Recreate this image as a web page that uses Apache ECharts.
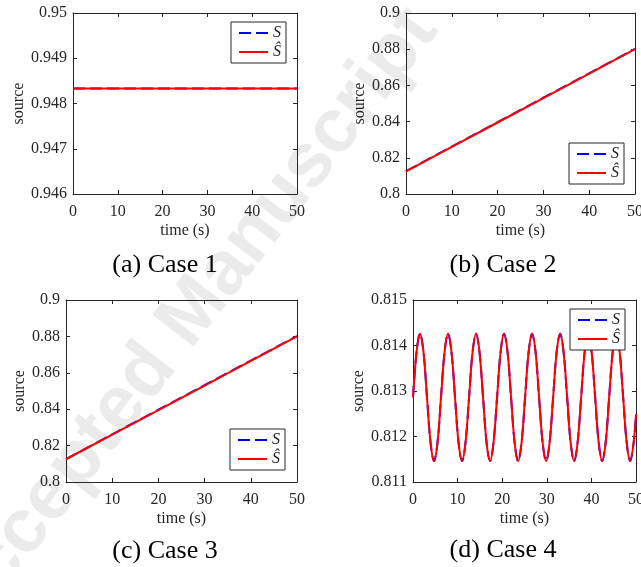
<!DOCTYPE html>
<html>
<head>
<meta charset="utf-8">
<script src="https://cdn.jsdelivr.net/npm/echarts@6/dist/echarts.min.js"></script>
<style>html,body{margin:0;padding:0;background:#fff;}#c{width:641px;height:567px;}</style>
</head>
<body>
<div id="c"></div>
<script>
// ---- data ----
const time = [0, 10, 20, 30, 40, 50];
const case1S    = [0.94833, 0.94833, 0.94833, 0.94833, 0.94833, 0.94833];
const case1Shat = [0.94833, 0.94833, 0.94833, 0.94833, 0.94833, 0.94833];
const case2S    = [0.8126, 0.8262, 0.8397, 0.8532, 0.8667, 0.8802];
const case2Shat = [0.8125, 0.8260, 0.8395, 0.8530, 0.8665, 0.8800];
const case3S    = [0.8126, 0.8262, 0.8397, 0.8532, 0.8667, 0.8802];
const case3Shat = [0.8125, 0.8260, 0.8395, 0.8530, 0.8665, 0.8800];
const time4 = [0, 0.79, 1.57, 2.36, 3.14, 3.93, 4.71, 5.50, 6.28, 7.07, 7.85, 8.64, 9.42, 10.21, 11.00, 11.78,
  12.57, 13.35, 14.14, 14.92, 15.71, 16.49, 17.28, 18.06, 18.85, 19.63, 20.42, 21.21, 21.99, 22.78, 23.56, 24.35,
  25.13, 25.92, 26.70, 27.49, 28.27, 29.06, 29.85, 30.63, 31.42, 32.20, 32.99, 33.77, 34.56, 35.34, 36.13, 36.91,
  37.70, 38.48, 39.27, 40.06, 40.84, 41.63, 42.41, 43.20, 43.98, 44.77, 45.55, 46.34, 47.12, 47.91, 48.69, 49.48, 50];
const case4S = [
  0.81286, 0.81385, 0.81426, 0.81385, 0.81286, 0.81187, 0.81146, 0.81187,
  0.81286, 0.81385, 0.81426, 0.81385, 0.81286, 0.81187, 0.81146, 0.81187,
  0.81286, 0.81385, 0.81426, 0.81385, 0.81286, 0.81187, 0.81146, 0.81187,
  0.81286, 0.81385, 0.81426, 0.81385, 0.81286, 0.81187, 0.81146, 0.81187,
  0.81286, 0.81385, 0.81426, 0.81385, 0.81286, 0.81187, 0.81146, 0.81187,
  0.81286, 0.81385, 0.81426, 0.81385, 0.81286, 0.81187, 0.81146, 0.81187,
  0.81286, 0.81385, 0.81426, 0.81385, 0.81286, 0.81187, 0.81146, 0.81187,
  0.81286, 0.81385, 0.81426, 0.81385, 0.81286, 0.81187, 0.81146, 0.81187, 0.81249];
const case4Shat = case4S.slice();
const xTicks = {min: 0, max: 50, interval: 10};
const yRanges = [
  {min: 0.946, max: 0.950, interval: 0.001},
  {min: 0.80, max: 0.90, interval: 0.02},
  {min: 0.80, max: 0.90, interval: 0.02},
  {min: 0.811, max: 0.815, interval: 0.001}
];
const captions = ['(a) Case 1', '(b) Case 2', '(c) Case 3', '(d) Case 4'];
const seriesNames = ['S', 'Ŝ'];

// ---- layout ----
const grids = [
  {left: 73, top: 13, width: 224, height: 181},
  {left: 406, top: 13, width: 229, height: 181},
  {left: 66, top: 300, width: 231, height: 182},
  {left: 413, top: 300, width: 223, height: 182}
];
const yNameGaps = [42, 38, 36, 46];
const legendPos = [[231, 22], [569, 143], [230, 429], [570, 309]];
const captionPos = [[165, 265], [503, 265], [165, 551], [503, 550]];

const AX = '#262626';
const FONT = 'Liberation Serif';
const fmt = v => String(parseFloat(v.toFixed(4)));

const xAxes = [], yAxes = [], series = [], legends = [];
const pairs = [[case1S, case1Shat, time], [case2S, case2Shat, time], [case3S, case3Shat, time], [case4S, case4Shat, time4]];

grids.forEach((g, i) => {
  const common = {
    gridIndex: i, type: 'value',
    axisLine: {show: true, onZero: false, lineStyle: {color: AX, width: 1}},
    axisTick: {show: true, inside: true, length: 4, lineStyle: {color: AX}},
    splitLine: {show: false}
  };
  xAxes.push(Object.assign({}, common, xTicks, {
    position: 'bottom', name: 'time (s)', nameLocation: 'middle', nameGap: 29,
    nameTextStyle: {fontFamily: FONT, fontSize: 16, color: AX},
    axisLabel: {fontFamily: FONT, fontSize: 16, color: AX, margin: 10, showMinLabel: true, showMaxLabel: true}
  }));
  xAxes.push(Object.assign({}, common, xTicks, {position: 'top', axisLabel: {show: false}}));
  yAxes.push(Object.assign({}, common, yRanges[i], {
    position: 'left', name: 'source', nameLocation: 'middle', nameGap: yNameGaps[i],
    nameTextStyle: {fontFamily: FONT, fontSize: 16, color: AX},
    axisLabel: {fontFamily: FONT, fontSize: 16, color: AX, margin: 6, formatter: fmt, showMinLabel: true, showMaxLabel: true}
  }));
  yAxes.push(Object.assign({}, common, yRanges[i], {position: 'right', axisLabel: {show: false}}));

  const [s, sh, t] = pairs[i];
  series.push({
    name: seriesNames[0], type: 'line', xAxisIndex: 2 * i, yAxisIndex: 2 * i,
    data: t.map((x, k) => [x, s[k]]), symbol: 'none', smooth: i === 3 ? 0.35 : false,
    lineStyle: {color: '#0000ff', width: 2, type: [12, 5]}, itemStyle: {color: '#0000ff'},
    animation: false, z: 3
  });
  series.push({
    name: seriesNames[1], type: 'line', xAxisIndex: 2 * i, yAxisIndex: 2 * i,
    data: t.map((x, k) => [x, sh[k]]), symbol: 'none', smooth: i === 3 ? 0.35 : false,
    lineStyle: {color: '#ff0000', width: 2}, itemStyle: {color: '#ff0000'},
    animation: false, z: 4
  });
  legends.push({
    data: seriesNames, orient: 'vertical', left: legendPos[i][0], top: legendPos[i][1],
    z: 20, zlevel: 0,
    backgroundColor: '#fff', borderColor: AX, borderWidth: 1, borderRadius: 0,
    padding: [3, 5, 3, 7], itemWidth: 29, itemHeight: 16, itemGap: 3,
    selectedMode: false,
    itemStyle: {color: 'rgba(0,0,0,0)', borderColor: 'rgba(0,0,0,0)', borderWidth: 0, opacity: 0},
    textStyle: {fontFamily: FONT, fontStyle: 'italic', fontSize: 16, color: AX, lineHeight: 16}
  });
});

const graphics = [{
  type: 'text', x: 187, y: 321, rotation: 0.91, z: -100, silent: true,
  style: {text: 'Accepted Manuscript', font: 'bold 76px "Liberation Sans"', fill: '#ebebeb',
          textAlign: 'center', textVerticalAlign: 'middle', align: 'center', verticalAlign: 'middle'}
}];
captions.forEach((c, i) => graphics.push({
  type: 'text', x: captionPos[i][0], y: captionPos[i][1], z: 10, silent: true,
  style: {text: c, font: '26px "Liberation Serif"', fill: '#000', textAlign: 'center', textVerticalAlign: 'middle',
          align: 'center', verticalAlign: 'middle'}
}));

const chart = echarts.init(document.getElementById('c'), null, {renderer: 'canvas'});
chart.setOption({
  backgroundColor: '#fff',
  animation: false,
  grid: grids.map(g => Object.assign({outerBoundsMode: 'none', containLabel: false}, g)),
  xAxis: xAxes,
  yAxis: yAxes,
  legend: legends,
  series: series,
  graphic: graphics
});
</script>
</body>
</html>
